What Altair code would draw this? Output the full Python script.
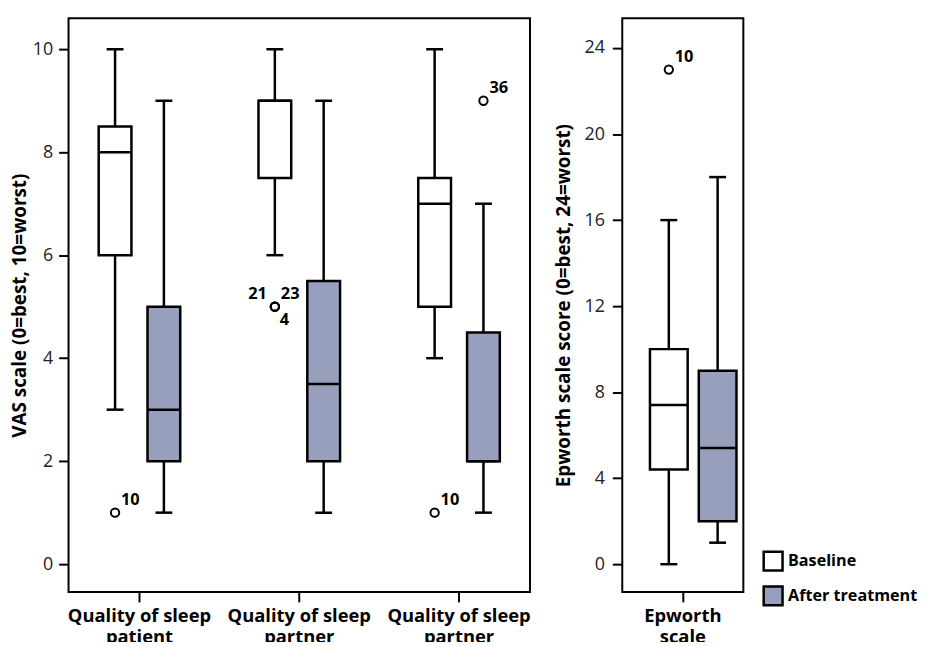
import altair as alt
import pandas as pd

# ---------------- data ----------------
phases = ["Baseline", "After treatment"]
phase_colors = ["#ffffff", "#979fbd"]

# VAS panel
vas_groups = ["patient", "partner", "partner2"]
vas_group_text = [["Quality of sleep", "patient"],
                  ["Quality of sleep", "partner"],
                  ["Quality of sleep", "partner"]]
vas_box_group = ["patient", "patient", "partner", "partner", "partner2", "partner2"]
vas_box_phase = ["Baseline", "After treatment", "Baseline", "After treatment", "Baseline", "After treatment"]
vas_min = [3, 1, 6, 1, 4, 1]
vas_q1 = [6, 2, 7.5, 2, 5, 2]
vas_median = [8, 3, 9, 3.5, 7, 2]
vas_q3 = [8.5, 5, 9, 5.5, 7.5, 4.5]
vas_max = [10, 9, 10, 9, 10, 7]

vas_out_group = ["patient", "partner", "partner", "partner", "partner2", "partner2"]
vas_out_phase = ["Baseline", "Baseline", "Baseline", "Baseline", "Baseline", "After treatment"]
vas_out_value = [1, 5, 5, 5, 1, 9]
vas_out_id = ["10", "21", "23", "4", "10", "36"]

vas_ticks = [0, 2, 4, 6, 8, 10]

# Epworth panel
epw_groups = ["epworth"]
epw_group_text = [["Epworth", "scale"]]
epw_box_group = ["epworth", "epworth"]
epw_box_phase = ["Baseline", "After treatment"]
epw_min = [0, 1]
epw_q1 = [4.4, 2]
epw_median = [7.4, 5.4]
epw_q3 = [10, 9]
epw_max = [16, 18]

epw_out_group = ["epworth"]
epw_out_phase = ["Baseline"]
epw_out_value = [23]
epw_out_id = ["10"]

epw_ticks = [0, 4, 8, 12, 16, 20, 24]

# ---------------- helpers ----------------
FONT = "Open Sans"
LW = 2.5

label_places = {
    "ur": dict(dx=6, dy=-8, align="left"),
    "ul": dict(dx=-8, dy=-8, align="right"),
    "lr": dict(dx=5, dy=18, align="left"),
}
place_of = {"21": "ul", "4": "lr"}


def label_expr(groups, texts):
    expr = "''"
    for g, t in reversed(list(zip(groups, texts))):
        arr = "[" + ", ".join("'" + s + "'" for s in t) + "]"
        expr = f"datum.value == '{g}' ? {arr} : ({expr})"
    return expr


def make_panel(groups, texts, box_df, out_df, y_domain, y_ticks, y_title,
               width, band_pad, off_pad, box_w, cap_w, title_pad, label_pad):
    yscale = alt.Scale(domain=y_domain, nice=False, zero=False)
    yaxis = alt.Axis(values=y_ticks, title=y_title, titlePadding=title_pad,
                     labelPadding=label_pad)
    x = alt.X("group:N",
              scale=alt.Scale(domain=groups, paddingInner=band_pad, paddingOuter=0),
              axis=alt.Axis(title=None, labelExpr=label_expr(groups, texts),
                            labelAngle=0, labelLimit=0))
    xo = alt.XOffset("phase:N",
                     scale=alt.Scale(domain=phases, paddingOuter=off_pad, paddingInner=0))

    def Y(field):
        return alt.Y(field, scale=yscale, axis=yaxis, title=y_title)

    base = alt.Chart(box_df).encode(x=x, xOffset=xo)

    whisk = base.mark_rule(color="black", strokeWidth=LW).encode(
        y=Y("min:Q"), y2="max:Q")
    box = base.mark_bar(size=box_w, stroke="black", strokeWidth=LW).encode(
        y=Y("q1:Q"),
        y2="q3:Q",
        fill=alt.Fill("phase:N",
                      scale=alt.Scale(domain=phases, range=phase_colors),
                      legend=alt.Legend(orient="none", legendX=699, legendY=536,
                                        title=None, symbolType="square",
                                        symbolSize=361, symbolStrokeColor="black",
                                        symbolStrokeWidth=2.5, labelFontSize=16.3,
                                        labelFontWeight="bold", labelColor="black",
                                        labelFont=FONT, rowPadding=5,
                                        labelOffset=4, padding=0)))
    med = base.mark_tick(size=box_w, thickness=LW, color="black", opacity=1).encode(
        y=Y("median:Q"))
    cap_lo = base.mark_tick(size=cap_w, thickness=LW, color="black", opacity=1).encode(
        y=Y("min:Q"))
    cap_hi = base.mark_tick(size=cap_w, thickness=LW, color="black", opacity=1).encode(
        y=Y("max:Q"))

    obase = alt.Chart(out_df).encode(x=x, xOffset=xo, y=Y("value:Q"))
    pts = obase.mark_point(shape="circle", filled=False, color="black",
                           strokeWidth=2, size=70, opacity=1)
    layers = [whisk, box, med, cap_lo, cap_hi, pts]
    for key, p in label_places.items():
        ids = [i for i in out_df["label"].unique() if place_of.get(i, "ur") == key]
        if not ids:
            continue
        layers.append(
            obase.transform_filter(alt.FieldOneOfPredicate(field="label", oneOf=ids))
            .mark_text(font=FONT, fontSize=16.5, fontWeight="bold", color="black",
                       baseline="alphabetic", **p)
            .encode(text="label:N"))
    return alt.layer(*layers).properties(width=width, height=578)


vas_box = pd.DataFrame({"group": vas_box_group, "phase": vas_box_phase,
                        "min": vas_min, "q1": vas_q1, "median": vas_median,
                        "q3": vas_q3, "max": vas_max})
vas_out = pd.DataFrame({"group": vas_out_group, "phase": vas_out_phase,
                        "value": vas_out_value, "label": vas_out_id})
epw_box = pd.DataFrame({"group": epw_box_group, "phase": epw_box_phase,
                        "min": epw_min, "q1": epw_q1, "median": epw_median,
                        "q3": epw_q3, "max": epw_max})
epw_out = pd.DataFrame({"group": epw_out_group, "phase": epw_out_phase,
                        "value": epw_out_value, "label": epw_out_id})

left = make_panel(vas_groups, vas_group_text, vas_box, vas_out,
                  [-0.54, 10.6], vas_ticks, "VAS scale (0=best, 10=worst)",
                  465, 0.112, 0.453, 33, 17, 3, 6)
right = make_panel(epw_groups, epw_group_text, epw_box, epw_out,
                   [-1.29, 25.38], epw_ticks, "Epworth scale score (0=best, 24=worst)",
                   122, 0, 0.093, 38, 17, 11, 8)

chart = (
    alt.hconcat(left, right, spacing=21)
    .properties(padding={"left": 1, "top": 7, "right": 0, "bottom": -8})
    .configure_view(stroke="black", strokeWidth=2)
    .configure_axis(domain=False, grid=False, tickColor="black", tickWidth=2,
                    tickSize=10, labelFont=FONT, labelFontSize=18,
                    labelColor="#222222", titleFont=FONT,
                    titleFontSize=19, titleFontWeight="bold", titleColor="black")
    .configure_axisX(labelFontWeight="bold", labelFontSize=18.5, labelColor="black",
                     labelLineHeight=21, labelPadding=5)
)

chart.save("out.html", embed_options={"renderer": "svg", "actions": False})
